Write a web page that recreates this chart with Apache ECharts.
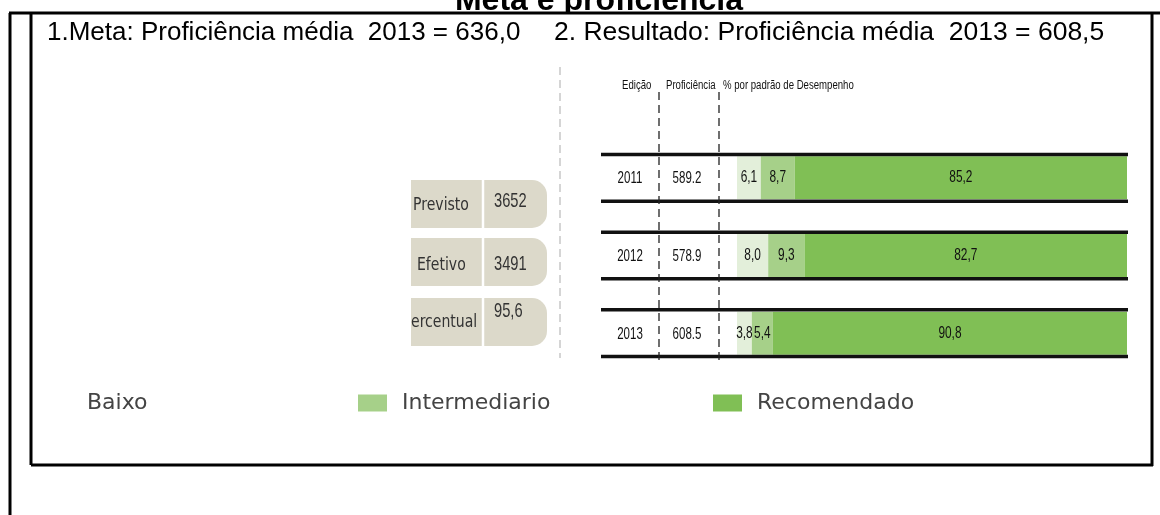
<!DOCTYPE html>
<html>
<head>
<meta charset="utf-8">
<script src="https://cdn.jsdelivr.net/npm/echarts@6/dist/echarts.min.js"></script>
<style>
html,body{margin:0;padding:0;background:#fff;}
#chart{width:1160px;height:515px;}
</style>
</head>
<body>
<div id="chart"></div>
<script>
// ---- data ----
const years = ['2011', '2012', '2013'];
const proficiencia = ['589.2', '578.9', '608.5'];
const baixo = [6.1, 8.0, 3.8];
const intermediario = [8.7, 9.3, 5.4];
const recomendado = [85.2, 82.7, 90.8];
const seriesNames = ['Baixo', 'Intermediario', 'Recomendado'];
const headerColumns = ['Edição', 'Proficiência', '% por padrão de Desempenho'];
const participacaoLabels = ['Previsto', 'Efetivo', 'ercentual'];
const participacaoValues = ['3652', '3491', '95,6'];
const titleText = 'Meta e proficiência';
const metaText1 = '1.Meta: Proficiência média  2013 = 636,0';
const metaText2 = '2. Resultado: Proficiência média  2013 = 608,5';

// ---- styles ----
const SANS = '"Liberation Sans", Arial, sans-serif';
const colors = ['#e3efda', '#a6d089', '#80bf55'];
const NARROW_SCALE = 0.72;

const chart = echarts.init(document.getElementById('chart'), null, {renderer: 'canvas'});

const fmt = v => v.toFixed(1).replace('.', ',');

function barSeries(name, data, color) {
  return {
    name, type: 'bar', stack: 'total', data, barWidth: 43,
    itemStyle: {color}, label: {show: false},
    emphasis: {disabled: true}, z: 2
  };
}

const narrowText = (x, y, text, size, align) => ({
  type: 'text', x, y, scaleX: NARROW_SCALE,
  style: {text, font: size + 'px ' + SANS, fill: '#111', textAlign: align || 'center', textVerticalAlign: 'middle'}
});

// decorations
const graphics = [];
const line = (x1, y1, x2, y2, w, color, dash, z) => graphics.push({
  type: 'line', shape: {x1, y1, x2, y2}, z: z || 10,
  style: {stroke: color || '#000', lineWidth: w || 3, lineDash: dash || null}
});
// title (clipped by frame)
graphics.push({type: 'text', x: 599, y: 1.5, z: 5,
  style: {text: titleText, font: 'bold 32px ' + SANS, fill: '#000',
    textAlign: 'center', textVerticalAlign: 'middle'}});
graphics.push({type: 'rect', shape: {x: 420, y: 14, width: 360, height: 7}, z: 6, style: {fill: '#fff'}});
// frame
line(9, 13, 1160, 13, 3, '#000', null, 20);
line(10, 13, 10, 515, 3, '#000', null, 20);
line(31, 13, 31, 465, 3, '#000', null, 20);
line(1152, 13, 1152, 466, 3, '#000', null, 20);
line(31, 465, 1153, 465, 3, '#000', null, 20);
// meta text
graphics.push({type: 'text', x: 47, y: 33, z: 10,
  style: {text: metaText1, font: '26px ' + SANS, fill: '#000', textVerticalAlign: 'middle'}});
graphics.push({type: 'text', x: 554, y: 33, z: 10,
  style: {text: metaText2, font: '26.5px ' + SANS, fill: '#000', textVerticalAlign: 'middle'}});
// gray dashed separator
line(560, 67, 560, 358, 1.5, '#c8c8c8', [8, 5]);
// table header
const headerX = [622, 666, 723];
headerColumns.forEach((t, i) => graphics.push(Object.assign(
  narrowText(headerX[i], 86, t, 12, 'left'), {z: 10, scaleX: 0.8})));
// dashed column separators
line(659, 92, 659, 360, 1.3, '#222', [8, 5]);
line(719, 92, 719, 360, 1.3, '#222', [8, 5]);
// participation pills
const pillTop = [180, 238, 298];
const labelX = [413, 417, 411];
const labelDy = [25, 27, 24];
const numDy = [21, 26, 13];
participacaoLabels.forEach((t, i) => {
  graphics.push({type: 'rect', shape: {x: 411, y: pillTop[i], width: 136, height: 48, r: [0, 15, 15, 0]},
    z: 8, style: {fill: '#dcd9ca'}});
  line(483, pillTop[i], 483, pillTop[i] + 48, 2.5, '#fff', null, 9);
  graphics.push({type: 'text', x: labelX[i], y: pillTop[i] + labelDy[i], z: 10, scaleX: 0.78,
    style: {text: t, font: '18px "DejaVu Sans", sans-serif', fill: '#333', textVerticalAlign: 'middle'}});
  graphics.push({type: 'text', x: 494, y: pillTop[i] + numDy[i], z: 10, scaleX: 0.7,
    style: {text: participacaoValues[i], font: '21px ' + SANS, fill: '#333', textVerticalAlign: 'middle'}});
});

const legendBase = {
  orient: 'horizontal', padding: 0, itemWidth: 29, itemHeight: 17, selectedMode: false,
  icon: 'rect',
  textStyle: {fontFamily: '"DejaVu Sans", sans-serif', fontSize: 22, color: '#444', padding: [0, 0, 0, 10]}
};

const option = {
  animation: false,
  backgroundColor: '#fff',
  grid: {left: 737, top: 139, width: 390, height: 233, containLabel: false},
  xAxis: {type: 'value', min: 0, max: 100, show: false},
  yAxis: {
    type: 'category', data: years, inverse: true,
    axisLine: {show: false}, axisTick: {show: false}, splitLine: {show: false},
    axisLabel: {show: false}
  },
  legend: [
    Object.assign({}, legendBase, {left: 43, top: 392, data: [seriesNames[0]], itemStyle: {opacity: 0}}),
    Object.assign({}, legendBase, {left: 358, top: 392, data: [seriesNames[1]]}),
    Object.assign({}, legendBase, {left: 713, top: 392, data: [seriesNames[2]]})
  ],
  series: [
    barSeries(seriesNames[0], baixo, colors[0]),
    barSeries(seriesNames[1], intermediario, colors[1]),
    barSeries(seriesNames[2], recomendado, colors[2]),
    {
      // row rules, row labels and segment values
      type: 'custom', name: 'rows', silent: true, z: 5,
      data: years.map((y, i) => [0, i]),
      encode: {x: 0, y: 1},
      renderItem: (params, api) => {
        const idx = api.value(1);
        const c = api.coord([0, idx]);
        const band = api.size([0, 1])[1];
        const half = band * 0.3;
        const x1 = c[0] - 136, x2 = c[0] + 391;
        const children = [
          {type: 'line', shape: {x1, y1: c[1] - half, x2, y2: c[1] - half}, style: {stroke: '#111', lineWidth: 3.5}},
          {type: 'line', shape: {x1, y1: c[1] + half, x2, y2: c[1] + half}, style: {stroke: '#111', lineWidth: 3.5}},
          narrowText(c[0] - 107, c[1] + 1, years[idx], 16),
          narrowText(c[0] - 50, c[1] + 1, proficiencia[idx], 16)
        ];
        const vals = [baixo[idx], intermediario[idx], recomendado[idx]];
        let cum = 0;
        vals.forEach(v => {
          const p = api.coord([cum + v / 2, idx]);
          children.push(narrowText(p[0], p[1], fmt(v), 16.5));
          cum += v;
        });
        return {type: 'group', children};
      }
    }
  ],
  graphic: graphics
};
chart.setOption(option);
</script>
</body>
</html>
